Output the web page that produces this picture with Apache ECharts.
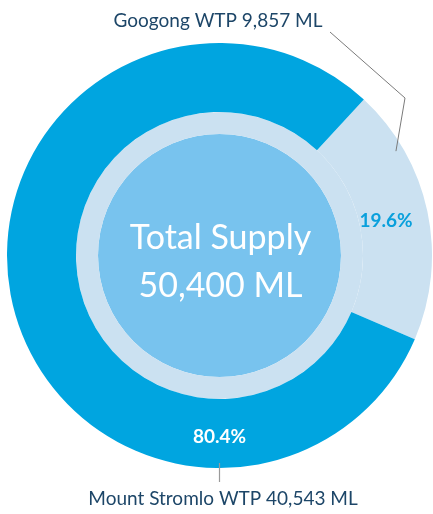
<!DOCTYPE html>
<html>
<head>
<meta charset="utf-8">
<script src="https://cdn.jsdelivr.net/npm/echarts@6/dist/echarts.min.js"></script>
<style>
  html, body { margin: 0; padding: 0; background: #fff; }
  #chart { width: 433px; height: 514px; }
</style>
</head>
<body>
<div id="chart"></div>
<script>
// Water supply by treatment plant (ML)
const categories = ['Googong WTP', 'Mount Stromlo WTP'];
const supplyML = [9857, 40543];
const centreTitle = 'Total Supply';
const unit = 'ML';

const total = supplyML.reduce((a, b) => a + b, 0);
const fmt = n => n.toLocaleString('en-US');
const pct = v => (v / total * 100).toFixed(1) + '%';

// Ring geometry
const CX = 219.5, CY = 255.5;
const R_OUT = 212.5, R_RING = 143.5, R_CORE = 121.5;

const COLOR_MAIN = '#00a5e0';
const COLOR_LIGHT = '#cbe1f1';
const COLOR_CORE = '#78c3ee';
const COLOR_TEXT = '#1d4668';
const FONT = 'Lato, "Open Sans", sans-serif';

// Googong slice is centred slightly above the 3 o'clock direction
const googongMid = 12;
const startAngle = googongMid + (supplyML[0] / total) * 180;

const toXY = (angleDeg, r) => {
  const a = angleDeg * Math.PI / 180;
  return [CX + r * Math.cos(a), CY - r * Math.sin(a)];
};

const chart = echarts.init(document.getElementById('chart'), null, { renderer: 'canvas' });

const leaderTop = [toXY(30.6, 205), [405, 98], [330, 32]];
const leaderBottom = [toXY(-90, 207.5), [CX, 482]];

chart.setOption({
  animation: false,
  series: [
    {
      type: 'pie', silent: true, center: [CX, CY], radius: [0, R_CORE],
      label: { show: false }, labelLine: { show: false },
      data: [{ value: 1, itemStyle: { color: COLOR_CORE } }]
    },
    {
      type: 'pie', silent: true, center: [CX, CY], radius: [R_CORE, R_RING],
      label: { show: false }, labelLine: { show: false },
      data: [{ value: 1, itemStyle: { color: COLOR_LIGHT } }]
    },
    {
      type: 'pie', silent: true, center: [CX, CY], radius: [R_RING, R_OUT],
      startAngle: startAngle, clockwise: true,
      labelLine: { show: false },
      label: {
        show: true, position: 'inside',
        fontFamily: FONT, fontSize: 19, fontWeight: 'bold',
        formatter: p => pct(p.value)
      },
      labelLayout: p => p.dataIndex === 1
        ? { x: CX, y: CY + 181, align: 'center', verticalAlign: 'middle' }
        : { x: 386, y: 221, align: 'center', verticalAlign: 'middle' },
      data: categories.map((name, i) => ({
        name: name,
        value: supplyML[i],
        itemStyle: { color: i === 0 ? COLOR_LIGHT : COLOR_MAIN },
        label: { color: i === 0 ? '#0aa0dc' : '#ffffff' }
      }))
    }
  ],
  graphic: [
    {
      type: 'text', x: CX + 1, y: CY + 7, z: 100,
      style: {
        text: centreTitle + '\n' + fmt(total) + ' ' + unit,
        fill: '#ffffff', font: '34px ' + FONT, lineHeight: 48,
        align: 'center', verticalAlign: 'middle'
      }
    },
    {
      type: 'text', x: 218, y: 21, z: 100,
      style: {
        text: categories[0] + ' ' + fmt(supplyML[0]) + ' ' + unit,
        fill: COLOR_TEXT, font: '19px ' + FONT,
        align: 'center', verticalAlign: 'middle'
      }
    },
    {
      type: 'text', x: 223, y: 499, z: 100,
      style: {
        text: categories[1] + ' ' + fmt(supplyML[1]) + ' ' + unit,
        fill: COLOR_TEXT, font: '19px ' + FONT,
        align: 'center', verticalAlign: 'middle'
      }
    },
    {
      type: 'polyline', silent: true, z: 100,
      shape: { points: leaderTop },
      style: { stroke: '#7a7a7a', lineWidth: 1, fill: null }
    },
    {
      type: 'polyline', silent: true, z: 100,
      shape: { points: leaderBottom },
      style: { stroke: '#9a9a9a', lineWidth: 1.2, fill: null }
    }
  ]
});
</script>
</body>
</html>
